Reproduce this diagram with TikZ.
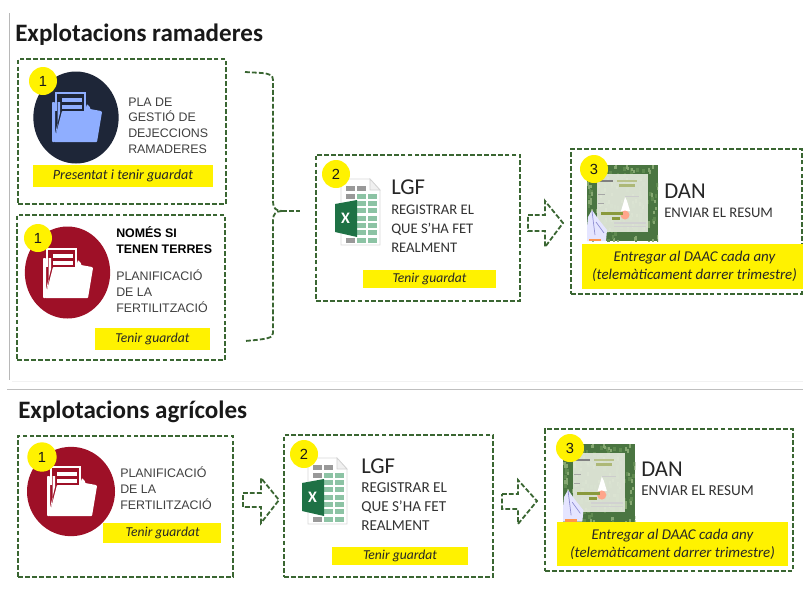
\documentclass[tikz,border=0pt]{standalone}
\usepackage{fontspec}
\setmainfont{Carlito}
\setsansfont{Liberation Sans}
\usetikzlibrary{fit,shapes.geometric}
\definecolor{dgreen}{HTML}{3A6632}
\definecolor{navyc}{HTML}{1E2638}
\definecolor{bluef}{HTML}{8FAEFF}
\definecolor{redc}{HTML}{9E1027}
\definecolor{xlgreen}{HTML}{1E7145}
\definecolor{xllight}{HTML}{8CC3A4}
\definecolor{tgray}{HTML}{404040}
\definecolor{grassa}{HTML}{4A7541}
\definecolor{grassb}{HTML}{5F8A50}
\definecolor{grassc}{HTML}{86A872}
\definecolor{panelc}{HTML}{E2E8DA}
\definecolor{olivec}{HTML}{8A9A3C}
\tikzset{
  dashline/.style={draw=dgreen,line width=1.35pt,dash pattern=on 3.6pt off 1.6pt},
  dbox/.style={dashline,inner sep=0pt,fit={#1}},
  ybar/.style={fill=yellow,inner sep=0pt,fit={#1}},
  ytext/.style={inner sep=0pt,align=center,text=black!85,font=\fontsize{10.2}{13.4}\selectfont\itshape},
  ytextwide/.style={ytext,font=\fontsize{11.2}{13.4}\selectfont\itshape},
  badge/.style={circle,fill=yellow,minimum size=21pt,inner sep=0pt,font=\fontsize{11}{12}\selectfont\sffamily,text=black!90},
  discnode/.style={ellipse,fill=#1,minimum width=64pt,minimum height=69pt,inner sep=0pt},
  titletext/.style={anchor=west,inner sep=0pt,font=\fontsize{18.8}{22}\selectfont\bfseries,text=black!90},
  armtext/.style={anchor=west,inner sep=0pt,align=left,text=tgray,font=\fontsize{9.3}{11.8}\selectfont\sffamily},
  boldarm/.style={anchor=west,inner sep=0pt,align=left,text=black,font=\fontsize{9.3}{11.8}\selectfont\sffamily\bfseries},
  bigtext/.style={anchor=west,inner sep=0pt,text=black!85,font=\fontsize{17}{20}\selectfont},
  captext/.style={anchor=west,inner sep=0pt,align=left,text=black!80,font=\fontsize{11}{14.2}\selectfont},
  captextb/.style={captext,font=\fontsize{11.4}{14.2}\selectfont},
  pics/folder/.style args={#1/#2}{code={
    \fill[#1,rounded corners=0.6pt] (-24,-15) rectangle (-21,25);
    \fill[#1] (-18.5,-15) -- (-16,-15) -- (-16,-4) -- (-21,17) -- (-21,25) -- (-18.5,8) -- cycle;
    \draw[#1,line width=0.9pt] (-20,-6) -- (-20,-24) -- (9,-24) -- (9,-6);
    \fill[#1] (-14,-19.5) rectangle (6,-15);
    \fill[#1] (-14,-12.5) rectangle (6,-8);
    \fill[#1,rounded corners=0.5pt] (-14,-6) -- (9,-6) -- (11,-13) -- (14,-10) -- (14,-8) -- (25,-6) -- (26,-5) -- (21,25) -- (-22,25) -- cycle;
  }},
  pics/excel/.style={code={
    \draw[black!15,fill=white,line width=0.6pt] (0,0) -- (29,0) -- (39,11) -- (39,66) -- (0,66) -- cycle;
    \draw[black!18,fill=black!6,line width=0.5pt] (29,0) -- (29,11) -- (39,11) -- cycle;
    \foreach \xa in {4.7,15.7}{\fill[black!40] (\xa,7) rectangle +(9.3,4.5);}
    \fill[black!40] (4.7,14.7) rectangle +(9.3,5);
    \foreach \yy in {14.7,22,29.3,36.6,43.9,51.2,58.5}{
      \fill[xllight] (15.7,\yy) rectangle +(9.3,5);
      \fill[xllight] (26.7,\yy) rectangle +(9,5);}
    \fill[black!40] (4.7,58.5) rectangle +(9.3,5);
    \fill[xlgreen] (-6,25) -- (16,21) -- (16,58) -- (-6,53) -- cycle;
    \node[inner sep=0pt,text=white,font=\fontsize{12}{13}\selectfont\bfseries] (xmark) at (4.5,39) {X};
  }},
  pics/danimg/.style={code={
    \begin{scope}
    \clip (0,0) rectangle (71,76);
    \fill[grassa] (0,0) rectangle (71,76);
    \pgfmathsetseed{11}
    \foreach \k in {1,...,170}{
      \pgfmathsetmacro{\pa}{rnd*71}
      \pgfmathsetmacro{\pb}{rnd*76}
      \pgfmathsetmacro{\pc}{rnd>0.45 ? 1 : 0}
      \ifdim\pc pt>0.5pt
        \fill[grassb] (\pa,\pb) rectangle +(2.5,4);
      \else
        \fill[grassc] (\pa,\pb) rectangle +(2,3.5);
      \fi
    }
    \fill[panelc,opacity=0.93] (10,9) rectangle (61,67);
    \fill[black!50] (11,15) rectangle (26,16.5);
    \fill[olivec!60] (30,15) rectangle (50,16.5);
    \fill[olivec!70] (32,19) rectangle (48,21.5);
    \fill[black!35] (11,29) rectangle (18,30.2);
    \fill[black!35] (11,38) rectangle (17,39.2);
    \fill[black!20] (38,31) rectangle (52,32);
    \fill[white] (34,46) -- (37,36) -- (38,32) -- (40,36) -- (43,46) -- cycle;
    \fill[red!55!orange!45] (38,50) circle (4.5);
    \fill[olivec] (14,47) rectangle (36,49.5);
    \fill[olivec] (25,52) rectangle (33,54.5);
    \fill[black!18] (27,57) rectangle (59,58.5);
    \fill[black!18] (27,60.5) rectangle (59,62);
    \fill[white!90!blue] (0,62) -- (1,52) -- (5,45) -- (12,55) -- (20,65) -- (19,76) -- (0,76) -- cycle;
    \draw[blue!60!black!45,line width=0.5pt] (5,46) -- (8,70);
    \draw[blue!60!black!45,line width=0.5pt] (9,57) -- (17,68);
    \fill[orange!80!red!70] (2,73.5) rectangle (14,76);
    \end{scope}
  }}
}
\begin{document}
\begin{tikzpicture}[x=0.75pt,y=-0.75pt]
\useasboundingbox (0,0) rectangle (803,590);
\fill[white] (0,0) rectangle (803,590);
% frame lines
\draw[black!28,line width=0.6pt] (9.5,13) -- (9.5,380);
\draw[black!5,line width=0.6pt] (12,381.5) -- (803,381.5);
\draw[black!25,line width=0.8pt] (7,389.5) -- (803,389.5);
% titles
\node[titletext] (t1) at (15,35) {Explotacions ramaderes};
\node[titletext] (t2) at (18,411.5) {Explotacions agrícoles};
% boxes
\node[dbox={(18,59)(226,204)}] (boxA) {};
\node[dbox={(17,215)(225,360)}] (boxB) {};
\node[dbox={(316,155)(520,301)}] (boxC) {};
\node[dbox={(571,149)(802,294)}] (boxD) {};
\node[dbox={(18,436)(233,577)}] (boxE) {};
\node[dbox={(284,435)(493,577)}] (boxF) {};
\node[dbox={(545,429)(793,571)}] (boxG) {};
% brace
\coordinate (brTop) at (245,72);
\coordinate (brBot) at (245,341);
\coordinate (brTip) at (282,211);
\coordinate (brEnd) at (300,211);
\draw[dashline] (brTop) -- (262,73) .. controls (270,74) and (273,75) .. (273,80) -- (273,202) .. controls (273,208) and (276,211) .. (brTip);
\draw[dashline] (brTip) .. controls (276,211) and (273,214) .. (273,220) -- (273,333) .. controls (273,338) and (268,339) .. (brBot);
\draw[dashline] (brTip) -- (brEnd);
% block arrows
\draw[dashline] (528,215) -- (545,215) -- (545,201) -- (563,223) -- (545,247) -- (545,231) -- (528,231) -- cycle;
\draw[dashline] (243,493) -- (261,493) -- (261,478) -- (279,500) -- (261,523) -- (261,507) -- (243,507) -- cycle;
\draw[dashline] (502,494) -- (518,494) -- (518,480) -- (537,501) -- (518,524) -- (518,509) -- (502,509) -- cycle;
% discs and folders
\node[discnode=navyc] (discA) at (76,117.5) {};
\pic at (76,117) {folder=bluef/navyc};
\node[discnode=redc] (discB) at (67.5,272.5) {};
\pic at (67,273) {folder=white/redc};
\node[discnode=redc,minimum width=66pt,minimum height=67pt] (discE) at (71,491.5) {};
\pic at (71,491) {folder=white/redc};
% excel icons
\pic at (341,179) {excel};
\pic at (308,458) {excel};
% DAN pictures
\pic at (587,165) {danimg};
\pic[scale=1.02] at (563,444) {danimg};
% badges
\node[badge] (b1) at (43,81) {1};
\node[badge] (b2) at (38,238) {1};
\node[badge] (b3) at (336,174) {2};
\node[badge] (b4) at (594,169) {3};
\node[badge,minimum size=22pt] (b5) at (42,457) {1};
\node[badge] (b6) at (304,454) {2};
\node[badge] (b7) at (570,448) {3};
% texts
\node[armtext] (tA) at (128,125.5) {PLA DE\\GESTIÓ DE\\DEJECCIONS\\RAMADERES};
\node[boldarm] (tB1) at (116,240) {NOMÉS SI\\TENEN TERRES};
\node[armtext] (tB2) at (116,291) {PLANIFICACIÓ\\DE LA\\FERTILITZACIÓ};
\node[armtext] (tE) at (120,488) {PLANIFICACIÓ\\DE LA\\FERTILITZACIÓ};
\node[bigtext] (lgf1) at (391,187) {LGF};
\node[captext] (tC) at (391,228.5) {REGISTRAR EL\\QUE S’HA FET\\REALMENT};
\node[bigtext] (dan1) at (664,191) {DAN};
\node[captext] (tD) at (664,213) {ENVIAR EL RESUM};
\node[bigtext] (lgf2) at (361,466) {LGF};
\node[captextb] (tF) at (361,506.5) {REGISTRAR EL\\QUE S’HA FET\\REALMENT};
\node[bigtext] (dan2) at (641,469) {DAN};
\node[captextb] (tG) at (641,491) {ENVIAR EL RESUM};
% yellow labels
\node[ybar={(33,165)(213,187)}] (yA) {};
\node[ytext,font=\fontsize{10.6}{13.4}\selectfont\itshape] (lA) at (yA.center) {Presentat i tenir guardat};
\node[ybar={(95,328)(210,350)}] (yB) {};
\node[ytext] (lB) at (yB.center) {Tenir guardat};
\node[ybar={(363,270)(496,288)}] (yC) {};
\node[ytext] (lC) at (yC.center) {Tenir guardat};
\node[ybar={(582,244)(803,289)}] (yD) {};
\node[ytextwide] (lD) at ([xshift=1.5pt]yD.center) {Entregar al DAAC cada any\\(telemàticament darrer trimestre)};
\node[ybar={(103,523)(221,543)}] (yE) {};
\node[ytext] (lE) at ([xshift=0.5pt]yE.center) {Tenir guardat};
\node[ybar={(332,547)(468,565)}] (yF) {};
\node[ytext] (lF) at (yF.center) {Tenir guardat};
\node[ybar={(557,522)(788,566)}] (yG) {};
\node[ytextwide] (lG) at (yG.center) {Entregar al DAAC cada any\\(telemàticament darrer trimestre)};
\end{tikzpicture}
\end{document}
